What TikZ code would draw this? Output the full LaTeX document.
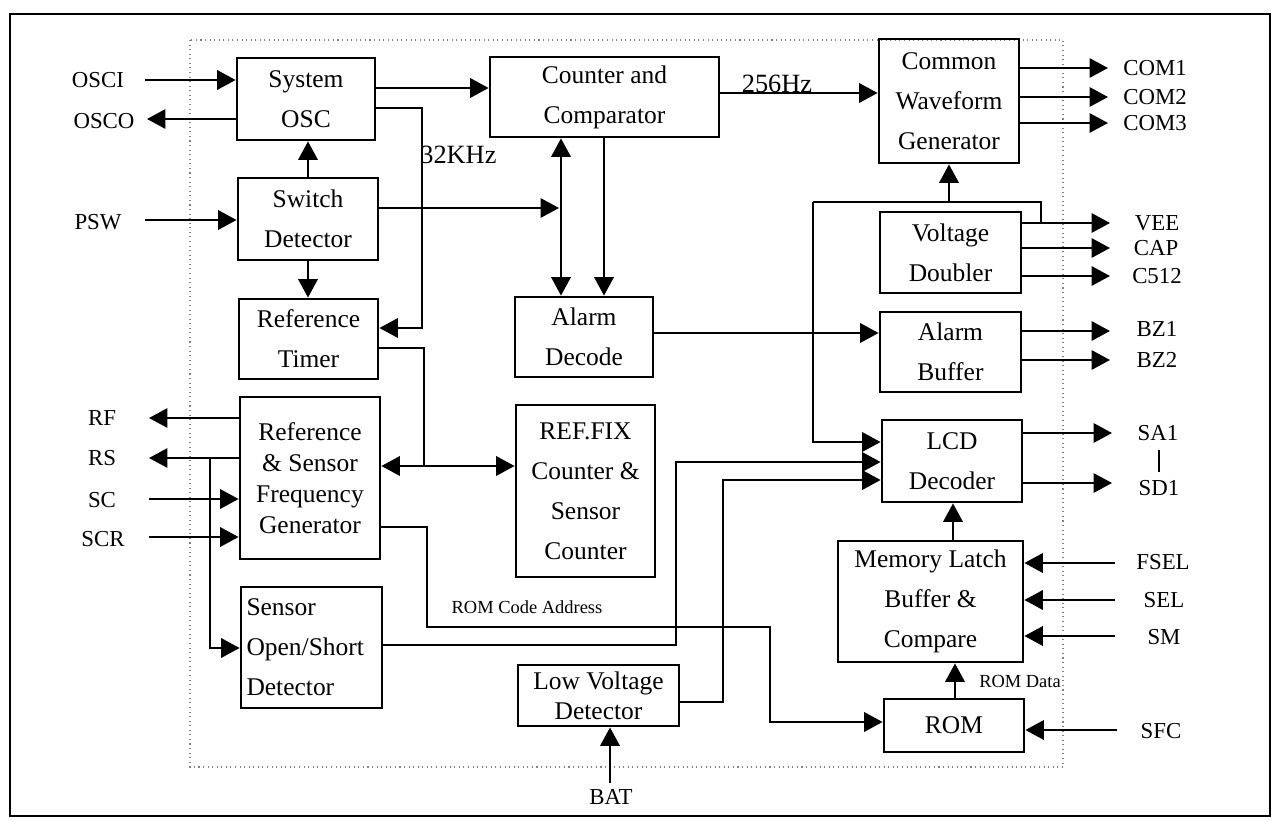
\documentclass[tikz,border=0pt]{standalone}
\usepackage{fontspec}
\setmainfont{Liberation Serif}
\usetikzlibrary{arrows.meta}
\newcommand\bxf{\fontsize{14.5}{22.7}\selectfont}
\begin{document}
\begin{tikzpicture}[x=0.02cm,y=-0.02cm,
  box/.style={draw, line width=1.6pt, align=center, font=\bxf, inner sep=0pt},
  lbl/.style={font=\fontsize{13}{15}\selectfont, inner sep=0pt},
  small/.style={font=\fontsize{10.5}{12}\selectfont, inner sep=0pt},
  wire/.style={line width=1.3pt},
  arr/.style={wire, -{Triangle[length=10.5pt,width=11pt]}},
  darr/.style={wire, {Triangle[length=10.5pt,width=11pt]}-{Triangle[length=10.5pt,width=11pt]}}]
\useasboundingbox (0,0) rectangle (1275,821);
\fill[white] (0,0) rectangle (1275,821);
% frames
\draw[line width=1.4pt] (10,14) rectangle (1270,816);
\draw[gray, dotted, line width=0.6pt] (190,40) rectangle (1063,767);
% boxes
\node[box, minimum width=2.76cm, minimum height=1.64cm] (sys) at (306,99) {System\\OSC};
\node[box, minimum width=4.58cm, minimum height=1.60cm] (cnt) at (604.5,97) {Counter and\\Comparator};
\node[box, minimum width=2.80cm, minimum height=2.48cm] (cwg) at (949,101) {Common\\Waveform\\Generator};
\node[box, minimum width=2.80cm, minimum height=1.64cm] (sw) at (308,219) {Switch\\Detector};
\node[box, minimum width=2.78cm, minimum height=1.60cm] (rt) at (308.5,339) {Reference\\Timer};
\node[box, minimum width=2.76cm, minimum height=1.60cm] (ad) at (584,337) {Alarm\\Decode};
\node[box, minimum width=2.82cm, minimum height=1.62cm] (vd) at (950.5,252.5) {Voltage\\Doubler};
\node[box, minimum width=2.82cm, minimum height=1.60cm] (ab) at (950.5,352) {Alarm\\Buffer};
\node[box, minimum width=2.80cm, minimum height=3.24cm, font=\fontsize{14.5}{17.6}\selectfont] (rsf) at (310,478) {Reference\\\& Sensor\\Frequency\\Generator};
\node[box, minimum width=2.78cm, minimum height=3.44cm] (rfx) at (585.5,491) {REF.FIX\\Counter \&\\Sensor\\Counter};
\node[box, minimum width=2.82cm, minimum height=2.42cm, align=left, text width=2.6cm] (sos) at (311.5,647.5) {Sensor\\Open/Short\\Detector};
\node[box, minimum width=3.22cm, minimum height=1.22cm, font=\fontsize{14.5}{17}\selectfont] (lvd) at (598.5,695.5) {Low Voltage\\Detector};
\node[box, minimum width=2.80cm, minimum height=1.64cm] (lcd) at (952,461) {LCD\\Decoder};
\node[box, minimum width=3.70cm, minimum height=2.42cm] (mem) at (930.5,601.5) {Memory Latch\\Buffer \&\\Compare};
\node[box, minimum width=2.80cm, minimum height=1.06cm] (rom) at (954,725.5) {ROM};
% signal labels
\node[lbl] (osci) at (98,80) {OSCI};
\node[lbl] (osco) at (104,121) {OSCO};
\node[lbl] (psw) at (98,222) {PSW};
\node[lbl] (rf) at (102,418) {RF};
\node[lbl] (rs) at (102,458) {RS};
\node[lbl] (sc) at (102,500) {SC};
\node[lbl] (scr) at (103,539) {SCR};
\node[lbl] (com1) at (1155,68) {COM1};
\node[lbl] (com2) at (1155,97) {COM2};
\node[lbl] (com3) at (1155,123) {COM3};
\node[lbl] (vee) at (1157,223) {VEE};
\node[lbl] (cap) at (1156,248) {CAP};
\node[lbl] (c512) at (1157,276) {C512};
\node[lbl] (bz1) at (1157,329) {BZ1};
\node[lbl] (bz2) at (1157,360) {BZ2};
\node[lbl] (sa1) at (1158,433) {SA1};
\node[lbl] (sd1) at (1159,488) {SD1};
\node[lbl] (fsel) at (1163,562) {FSEL};
\node[lbl] (sel) at (1164,600) {SEL};
\node[lbl] (sm) at (1164,637) {SM};
\node[lbl] (sfc) at (1161,731) {SFC};
\node[lbl] (bat) at (611,797) {BAT};
\node[font=\fontsize{15}{17}\selectfont, inner sep=0pt, anchor=west] (khz) at (420,155) {32KHz};
\node[font=\fontsize{15}{17}\selectfont, inner sep=0pt, anchor=base] (hz) at (777,92) {256Hz};
\node[small] (rca) at (527,607) {ROM Code Address};
\node[small] (rd) at (1020,681) {ROM Data};
% free ends
\coordinate (osciE) at (145,80);
\coordinate (oscoE) at (147,119);
\coordinate (pswE) at (145,220);
\coordinate (rfE) at (149,418);
\coordinate (rsE) at (149,458);
\coordinate (scE) at (149,499);
\coordinate (scrE) at (149,537);
\coordinate (com1E) at (1108,68);
\coordinate (com2E) at (1108,97);
\coordinate (com3E) at (1108,123);
\coordinate (veeE) at (1110,223);
\coordinate (capE) at (1110,248);
\coordinate (c512E) at (1110,276);
\coordinate (bz1E) at (1110,331);
\coordinate (bz2E) at (1110,360);
\coordinate (sa1E) at (1112,433);
\coordinate (sd1E) at (1112,483);
\coordinate (fselE) at (1115,563);
\coordinate (selE) at (1115,600);
\coordinate (smE) at (1115,636);
\coordinate (sfcE) at (1117,730);
\coordinate (batE) at (610,783);
% left side
\draw[arr] (osciE) -- (sys.west |- osciE);
\draw[arr] (sys.west |- oscoE) -- (oscoE);
\draw[arr] (pswE) -- (sw.west |- pswE);
\draw[arr] (rsf.west |- rfE) -- (rfE);
\draw[arr] (rsf.west |- rsE) -- (rsE);
\draw[arr] (scE) -- (rsf.west |- scE);
\draw[arr] (scrE) -- (rsf.west |- scrE);
\draw[arr] (210,458) -- (210,648) -- (sos.west |- 0,648);
% top area
\draw[arr] (sys.east |- 0,88) -- (cnt.west |- 0,88);
\draw[arr] (sys.east |- 0,108) -- (422,108) -- (422,328) -- (rt.east |- 0,328);
\draw[arr] (sw.north) -- (sw.north |- sys.south);
\draw[arr] (sw.south) -- (sw.south |- rt.north);
\draw[arr] (sw.east |- 0,208) -- (559,208);
\draw[darr] (cnt.south -| 561,0) -- (ad.north -| 561,0);
\draw[arr] (cnt.south -| 604,0) -- (ad.north -| 604,0);
\draw[wire] (rt.east |- 0,348) -- (424,348) -- (424,466);
\draw[arr] (424,466) -- (rsf.east |- 0,466);
\draw[arr] (424,466) -- (rfx.west |- 0,466);
\draw[arr] (cnt.east |- 0,93) -- (cwg.west |- 0,93);
\draw[arr] (cwg.east |- com1E) -- (com1E);
\draw[arr] (cwg.east |- com2E) -- (com2E);
\draw[arr] (cwg.east |- com3E) -- (com3E);
% voltage doubler
\draw[arr] (vd.east |- veeE) -- (veeE);
\draw[arr] (vd.east |- capE) -- (capE);
\draw[arr] (vd.east |- c512E) -- (c512E);
\draw[wire] (1041,223) -- (1041,202) -- (813,202);
\draw[arr] (813,202) -- (813,442) -- (lcd.west |- 0,442);
\draw[arr] (cwg.south |- 0,202) -- (cwg.south);
% alarm
\draw[arr] (ad.east |- 0,333) -- (ab.west |- 0,333);
\draw[arr] (ab.east |- bz1E) -- (bz1E);
\draw[arr] (ab.east |- bz2E) -- (bz2E);
% LCD
\draw[arr] (lcd.east |- sa1E) -- (sa1E);
\draw[arr] (lcd.east |- sd1E) -- (sd1E);
\draw[line width=0.8pt] (1159,450) -- (1159,472);
\draw[arr] (sos.east |- 0,645) -- (676,645) -- (676,462) -- (lcd.west |- 0,462);
\draw[arr] (lvd.east |- 0,702) -- (723,702) -- (723,480) -- (lcd.west |- 0,480);
\draw[arr] (rsf.east |- 0,527) -- (427,527) -- (427,627) -- (770,627) -- (770,722) -- (rom.west |- 0,722);
\draw[arr] (mem.north -| 953,0) -- (lcd.south -| 953,0);
\draw[arr] (rom.north -| 955,0) -- (mem.south -| 955,0);
\draw[arr] (fselE) -- (mem.east |- fselE);
\draw[arr] (selE) -- (mem.east |- selE);
\draw[arr] (smE) -- (mem.east |- smE);
\draw[arr] (sfcE) -- (rom.east |- sfcE);
\draw[arr] (batE) -- (lvd.south -| batE);
\end{tikzpicture}
\end{document}
